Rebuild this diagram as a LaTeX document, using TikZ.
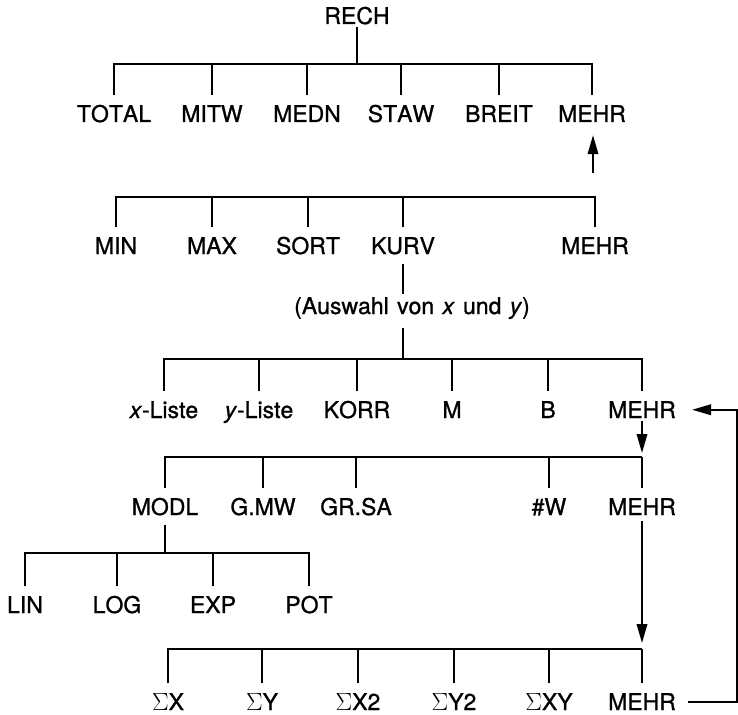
\documentclass[tikz,border=0pt]{standalone}
\usepackage{fontspec}
\setmainfont{TeX Gyre Heros}[FakeBold=1.0, Kerning=Off, WordSpace=1.3]
\usetikzlibrary{arrows.meta}

\begin{document}
\begin{tikzpicture}[
        x=1pt, y=-1pt,
        key/.style={font=\fontsize{23}{27}\selectfont, anchor=base, inner xsep=0pt, inner ysep=10pt, text height=16.5pt, text depth=0pt},
        edge/.style={-, line width=1.9pt},
        arr/.style={-{Triangle[length=19pt, width=10.5pt]}, line width=1.9pt}
    ]
    \useasboundingbox (0,0) rectangle (738,714);

    % Root
    \node[key, inner ysep=3pt] (rech) at (357,24) {RECH};

    % First row
    \node[key] (total) at (114,122) {TOTAL};
    \node[key] (mitw) at (212,122) {MITW};
    \node[key] (medn) at (307,122) {MEDN};
    \node[key] (staw) at (401,122) {STAW};
    \node[key] (breit) at (499,122) {BREIT};
    \node[key] (mehrA) at (592,122) {MEHR};

    % Second row
    \node[key] (min) at (116,254) {MIN};
    \node[key] (max) at (212,254) {MAX};
    \node[key] (sort) at (308,254) {SORT};
    \node[key] (kurv) at (403,254) {KURV};
    \node[key] (mehrB) at (595,254) {MEHR};
    \node[key, inner ysep=3pt, text depth=4.5pt] (ausw) at (412,314) {(Auswahl von \textit{x} und \textit{y})};

    % Third row
    \node[key] (xl) at (164,418) {\textit{x}-Liste};
    \node[key] (yl) at (259,418) {\textit{y}-Liste};
    \node[key] (korr) at (357,418) {KORR};
    \node[key] (m) at (452,418) {M};
    \node[key] (b) at (548,418) {B};
    \node[key] (mehrC) at (642,418) {MEHR};

    % Fourth row
    \node[key] (modl) at (165,515) {MODL};
    \node[key] (gmw) at (263,515) {G.MW};
    \node[key] (grsa) at (356,515) {GR.SA};
    \node[key] (nw) at (549,515) {\#W};
    \node[key] (mehrD) at (642,515) {MEHR};

    % Models
    \node[key] (lin) at (25,613) {LIN};
    \node[key] (log) at (117,613) {LOG};
    \node[key] (exp) at (213,613) {EXP};
    \node[key] (pot) at (309,613) {POT};

    % Sums
    \node[key] (sx) at (168,710) {$\Sigma$X};
    \node[key] (sy) at (262,710) {$\Sigma$Y};
    \node[key] (sxx) at (358,710) {$\Sigma$X2};
    \node[key] (syy) at (454,710) {$\Sigma$Y2};
    \node[key] (sxy) at (549,710) {$\Sigma$XY};
    \node[key] (mehrE) at (642,710) {MEHR};

    % Bars
    \coordinate (j1) at (357,64);
    \coordinate (j2) at (593,197);
    \coordinate (j3) at (403,359);
    \coordinate (j4) at (642,457);
    \coordinate (j5) at (165,553);
    \coordinate (j6) at (642,649);
    \coordinate (up) at (593,173);
    \coordinate (back) at (737,0);

    \draw[edge] (rech.south) -- (j1);
    \foreach \c in {total,mitw,medn,staw,breit,mehrA}
        \draw[edge] (\c.north) |- (j1);

    \foreach \c in {min,max,sort,kurv,mehrB}
        \draw[edge] (\c.north) |- (j2);
    \draw[arr, shorten >=3pt] (up) -- (up |- mehrA.south);

    \draw[edge] (kurv.south) -- (kurv.south |- ausw.north);
    \draw[edge, shorten <=6.5pt] (ausw.south -| j3) -- (j3);
    \foreach \c in {xl,yl,korr,m,b,mehrC}
        \draw[edge] (\c.north) |- (j3);

    \draw[arr, shorten <=3pt, shorten >=4pt] (mehrC.base) -- (j4);
    \foreach \c in {modl,gmw,grsa,nw,mehrD}
        \draw[edge] (\c.north) |- (j4);

    \draw[edge] (modl.south) -- (j5);
    \foreach \c in {lin,log,exp,pot}
        \draw[edge] (\c.north) |- (j5);

    \draw[arr, shorten <=6pt, shorten >=6pt] (mehrD.base) -- (j6);
    \foreach \c in {sx,sy,sxx,syy,sxy,mehrE}
        \draw[edge] (\c.north) |- (j6);

    % Loop back
    \draw[arr, shorten <=12pt, shorten >=16pt] (mehrE.east) -| (back |- mehrC.east) -- (mehrC.east);

\end{tikzpicture}
\end{document}
